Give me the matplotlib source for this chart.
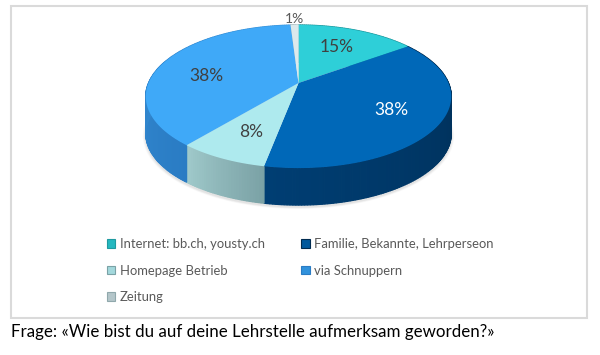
import numpy as np
import matplotlib
matplotlib.use("Agg")
import matplotlib.pyplot as plt
from matplotlib.patches import Rectangle

plt.rcParams['font.family'] = ['Lato', 'DejaVu Sans']

labels = ['Internet: bb.ch, yousty.ch', 'Familie, Bekannte, Lehrperseon',
          'Homepage Betrieb', 'via Schnuppern', 'Zeitung']
values = [15, 38, 8, 38, 1]
pct_labels = ['15%', '38%', '8%', '38%', '1%']
top_colors = ['#2ecfd8', '#0068b8', '#aeeaee', '#3fa9f8', '#dce9ec']
side_left = ['#1f9aa0', '#003e73', '#9fc9ca', '#3d97de', '#b0c4c8']
side_right = ['#1f9aa0', '#002b50', '#7ba2a6', '#2a7cc4', '#90a8ac']
legend_colors = ['#25b8c0', '#00589c', '#a3d8dc', '#3192dc', '#b4c6ca']
text_colors = ['#404040', '#ffffff', '#404040', '#404040', '#595959']
caption = 'Frage: «Wie bist du auf deine Lehrstelle aufmerksam geworden?»'

# pie geometry in pixels, the pie is tilted so the centre sits above the ellipse middle
cx, cy = 298.5, 83
A, B, p = 150, 69, 0.189
depth = 37


def project(frac, r=1.0):
    t = 2 * np.pi * np.asarray(frac)
    X = r * np.sin(t)
    Y = r * np.cos(t)
    w = 1 + p * Y
    return cx + A * X / w, cy - B * Y / w


def mix(c1, c2, f):
    a = np.array(matplotlib.colors.to_rgb(c1))
    b = np.array(matplotlib.colors.to_rgb(c2))
    return tuple(a + (b - a) * f)


fig = plt.figure(figsize=(6, 3.55), dpi=100)
ax = fig.add_axes([0, 0, 1, 1])
ax.set_xlim(0, 600)
ax.set_ylim(355, 0)
ax.axis('off')

# chart frame
ax.add_patch(Rectangle((11, 5.5), 576, 312, fc='white', ec='#dadada', lw=1.5))

edges = np.cumsum([0] + values) / sum(values)

# soft shadow under the pie
for i, a in enumerate([0.05, 0.07, 0.1]):
    f = np.linspace(0, 1, 200)
    x, y = project(f, 1.0 + 0.006 * (3 - i))
    ax.fill(x, y + depth + 2, color='#808080', alpha=a, lw=0)

# side wall, split into small pieces for the gradient
for i in range(len(values)):
    steps = np.linspace(edges[i], edges[i + 1], max(2, values[i] * 4))
    for j in range(len(steps) - 1):
        f = j / max(1, len(steps) - 2)
        # left to right on screen means going backwards around the pie
        x1, y1 = project(steps[j])
        x2, y2 = project(steps[j + 1])
        col = mix(side_right[i], side_left[i], f)
        ax.fill([x1, x2, x2, x1], [y1, y2, y2 + depth, y1 + depth],
                fc=col, ec=col, lw=0.9)

# top faces
for i in range(len(values)):
    f = np.linspace(edges[i], edges[i + 1], 80)
    x, y = project(f)
    ax.fill(np.r_[cx, x], np.r_[cy, y], color=top_colors[i], lw=0)

# percent labels
mid = (edges[:-1] + edges[1:]) / 2
radius = [0.62, 0.68, 0.66, 0.67, 1.13]
shift_y = [-1, 0, 3, 7, 0]
sizes = [12.5, 12.5, 12.5, 12.5, 10]
for i in range(len(values)):
    x, y = project(mid[i], radius[i])
    ax.text(x, y + shift_y[i], pct_labels[i], color=text_colors[i], fontsize=sizes[i],
            ha='center', va='center')

# legend, filled column by column
order = [0, 2, 4, 1, 3]
handles = [Rectangle((0, 0), 1, 1, fc=legend_colors[i], ec=side_right[i], lw=0.8) for i in order]
ax.legend(handles, [labels[i] for i in order], ncol=2, frameon=False,
          loc='upper left', bbox_to_anchor=(107 / 600, 1 - 238 / 355),
          fontsize=9.4, labelcolor='#595959', handlelength=0.65, handleheight=0.65,
          handletextpad=0.35, labelspacing=1.12, columnspacing=2.78,
          borderpad=0, borderaxespad=0)

ax.text(11, 332, caption, fontsize=12.2, color='black', ha='left', va='center')

fig.savefig('out.png', dpi=100)
